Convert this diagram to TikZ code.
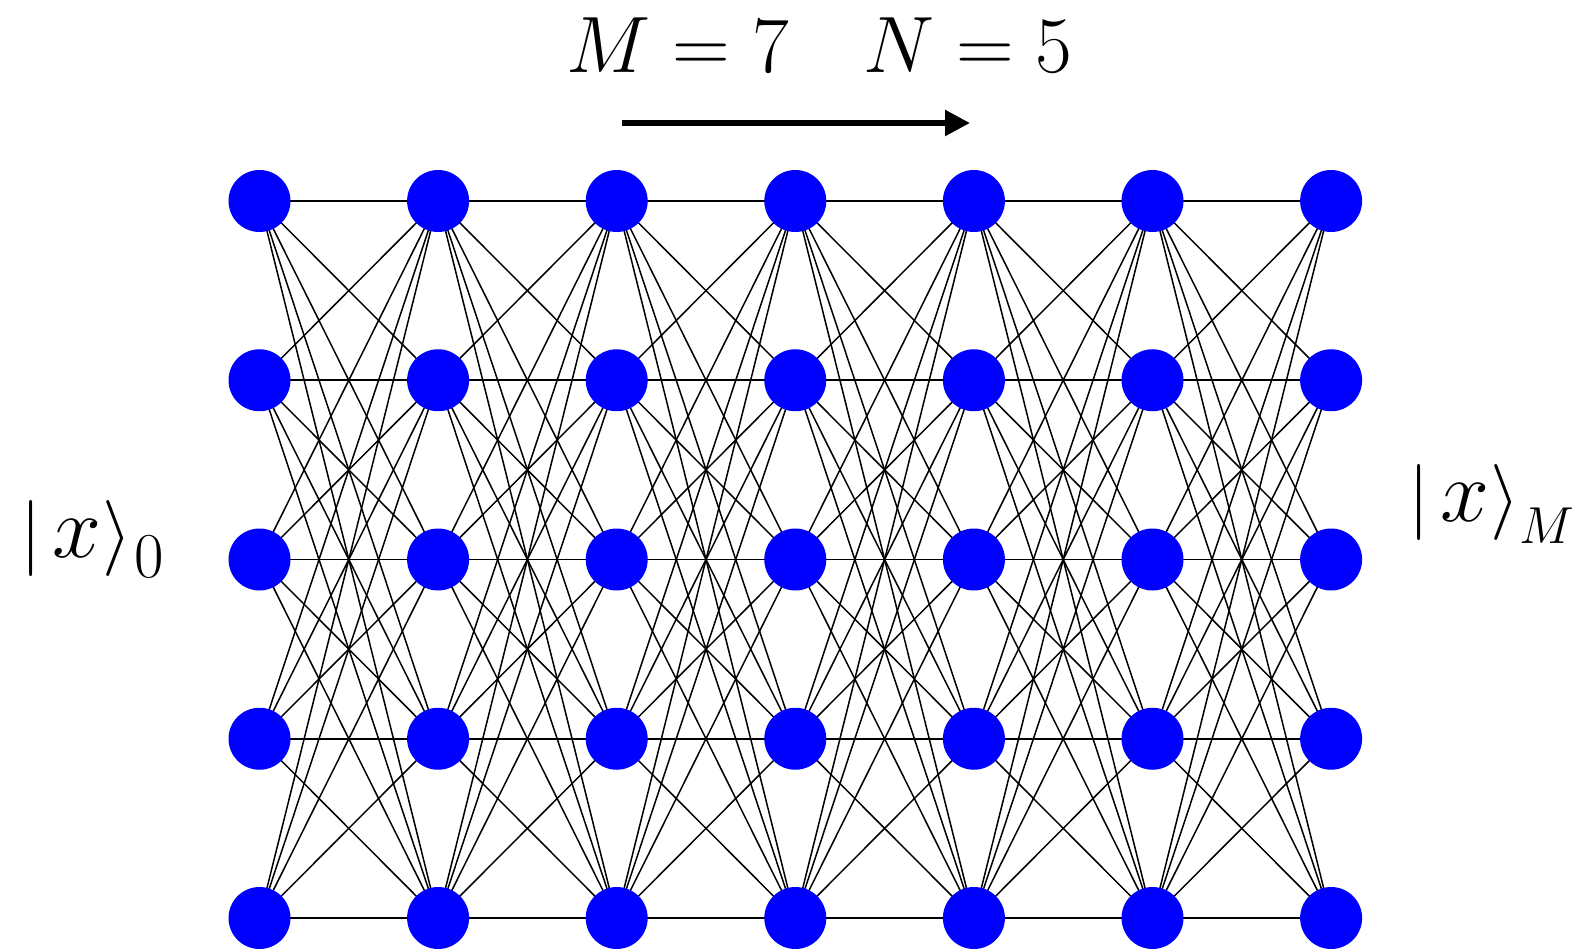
\RequirePackage{fix-cm}
\documentclass[tikz,border=0pt]{standalone}
\usetikzlibrary{arrows.meta,backgrounds}
\newcommand\fsz[1]{\fontsize{#1}{#1}\selectfont}
\begin{document}
\begin{tikzpicture}[x=1pt,y=-1pt,
  dot/.style={circle,fill=blue,draw=none,inner sep=0pt,minimum size=62pt},
  edge/.style={line width=1.5pt,black},
  bigtxt/.style={inner sep=0pt,font=\fsz{80}},
  kettxt/.style={inner sep=0pt,font=\fsz{76}}]
\useasboundingbox (0,0) rectangle (1575,949);
\foreach \i in {1,...,7}
  \foreach \j in {1,...,5}
    \node[dot] (n\i\j) at ({259.5+178.6*(\i-1)},{201+179.25*(\j-1)}) {};
\begin{scope}[on background layer]
\foreach \i [evaluate=\i as \k using int(\i+1)] in {1,...,6}
  \foreach \j in {1,...,5}
    \foreach \m in {1,...,5}
      \draw[edge] (n\i\j.center) -- (n\k\m.center);
\end{scope}
\node[bigtxt,anchor=base west] (tM) at (566,73) {$M = 7$};
\node[bigtxt,anchor=base east] (tN) at (1073,73) {$N = 5$};
\coordinate (a1) at (622,123);
\coordinate (a2) at (970,123);
\draw[line width=5.5pt,-{Triangle[length=25pt,width=25pt]}] (a1) -- (a2);
\node[kettxt,anchor=base west] (k0) at (20,557)
  {$|$\hspace{11pt}{\fsz{88}$x$}\hspace{1pt}$\rangle$\hspace{3pt}\raisebox{-20pt}{\fsz{64}$0$}};
\node[kettxt,anchor=base west] (kM) at (1408,521)
  {$|$\hspace{11pt}{\fsz{88}$x$}\hspace{1pt}$\rangle$\raisebox{-22pt}{\fsz{52}$M$}};
\end{tikzpicture}
\end{document}
